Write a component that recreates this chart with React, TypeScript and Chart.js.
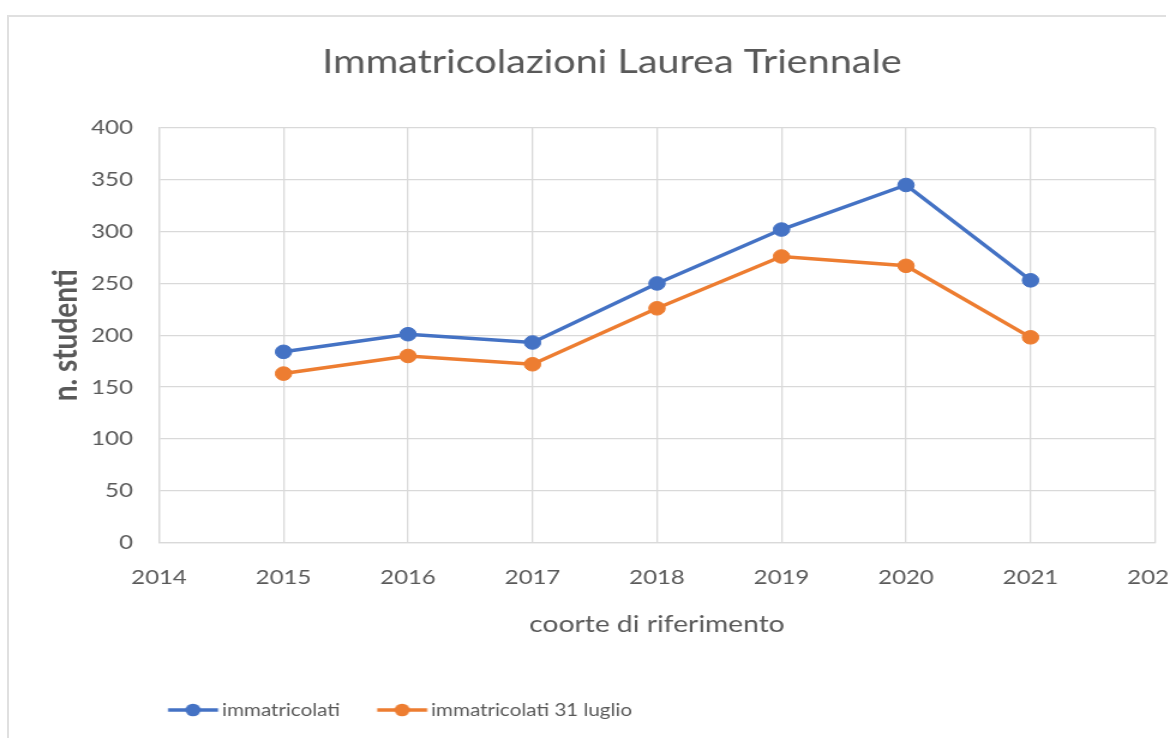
import React, { useEffect, useRef } from "react";
import { Chart, registerables } from "chart.js";

Chart.register(...registerables);

// ---- data ----
const years = [2015, 2016, 2017, 2018, 2019, 2020, 2021];
const immatricolati = [184, 201, 193, 250, 302, 345, 253];
const immatricolati31Luglio = [163, 180, 172, 226, 276, 267, 198];
const seriesLabels = ["immatricolati", "immatricolati 31 luglio"];
const seriesColors = ["#4472C4", "#ED7D31"];
const chartTitle = "Immatricolazioni Laurea Triennale";
const xAxisTitle = "coorte di riferimento";
const yAxisTitle = "n. studenti";
const xMin = 2014;
const xMax = 2022;
const yMin = 0;
const yMax = 400;
const yStep = 50;

// ---- layout constants (canvas px; canvas is stretched horizontally) ----
const STRETCH = 1.2;
const CANVAS_W = 1013;
const CANVAS_H = 738;
const FONT = "Lato, 'Open Sans', sans-serif";
const TEXT_COLOR = "#595959";
const GRID_COLOR = "#d9d9d9";
const LEGEND_FS = 17.2;
const LEGEND_BOX_W = 36.4;
const LEGEND_PAD = 31;
const LEGEND_LEFT = 109;
const TITLE_CENTER = 510;

function makeMarker(color: string): HTMLCanvasElement {
  const c = document.createElement("canvas");
  c.width = 50;
  c.height = 18;
  const ctx = c.getContext("2d")!;
  const u0 = c.width / 2 - LEGEND_BOX_W / 2;
  ctx.strokeStyle = color;
  ctx.lineWidth = 3.5;
  ctx.beginPath();
  ctx.moveTo(u0, c.height / 2);
  ctx.lineTo(u0 + 41.7, c.height / 2);
  ctx.stroke();
  ctx.fillStyle = color;
  ctx.beginPath();
  ctx.arc(u0 + 20.8, c.height / 2, 6.3, 0, Math.PI * 2);
  ctx.fill();
  return c;
}

export default function App() {
  const canvasRef = useRef<HTMLCanvasElement | null>(null);

  useEffect(() => {
    if (!canvasRef.current) return;
    const markers = seriesColors.map((c) => makeMarker(c));
    const seriesValues = [immatricolati, immatricolati31Luglio];

    const tweak = {
      id: "tweak",
      afterLayout(chart: any) {
        const lg = chart.legend;
        if (lg) {
          const w = lg.right - lg.left;
          lg.left = LEGEND_LEFT;
          lg.right = LEGEND_LEFT + w;
        }
        const tb = chart.titleBlock;
        if (tb) {
          const w = tb.right - tb.left;
          tb.left = TITLE_CENTER - w / 2;
          tb.right = tb.left + w;
        }
      },
    };

    const chart = new Chart(canvasRef.current, {
      type: "line",
      data: {
        datasets: seriesValues.map((vals, i) => ({
          label: seriesLabels[i],
          data: years.map((y, j) => ({ x: y, y: vals[j] })),
          borderColor: seriesColors[i],
          backgroundColor: seriesColors[i],
          pointBackgroundColor: seriesColors[i],
          pointBorderColor: seriesColors[i],
          borderWidth: 3.5,
          pointRadius: 6.8,
          pointBorderWidth: 1,
          tension: 0,
          fill: false,
        })),
      },
      plugins: [tweak],
      options: {
        animation: false,
        responsive: false,
        layout: { padding: { top: 0, left: 0, right: 50.5, bottom: 9.4 } },
        scales: {
          x: {
            type: "linear",
            min: xMin,
            max: xMax,
            grid: { color: GRID_COLOR, lineWidth: 1.3, drawTicks: false },
            border: { color: GRID_COLOR, width: 1.3 },
            ticks: {
              stepSize: 1,
              padding: 23,
              color: TEXT_COLOR,
              font: { family: FONT, size: 20 },
              callback: (v: any) => String(v),
              maxRotation: 0,
              autoSkip: false,
            },
            title: {
              display: true,
              text: xAxisTitle,
              color: TEXT_COLOR,
              font: { family: FONT, size: 23.5, lineHeight: 1 },
              padding: { top: 0, bottom: 34.4 },
            },
          },
          y: {
            type: "linear",
            min: yMin,
            max: yMax,
            afterFit: (scale: any) => {
              scale.width = 132.5;
            },
            grid: { color: GRID_COLOR, lineWidth: 1.3, drawTicks: false },
            border: { color: GRID_COLOR, width: 1.3 },
            ticks: {
              stepSize: yStep,
              padding: 21.7,
              color: TEXT_COLOR,
              font: { family: FONT, size: 20 },
            },
            title: {
              display: true,
              text: yAxisTitle,
              color: TEXT_COLOR,
              font: { family: FONT, size: 28, weight: "bold" },
              padding: { top: 38.2, bottom: 0 },
            },
          },
        },
        plugins: {
          title: {
            display: true,
            text: chartTitle,
            color: TEXT_COLOR,
            font: { family: FONT, size: 33, weight: "normal" },
            padding: { top: 42.2, bottom: 46.2 },
          },
          legend: {
            display: true,
            position: "bottom",
            align: "start",
            labels: {
              usePointStyle: true,
              pointStyleWidth: LEGEND_BOX_W,
              padding: LEGEND_PAD,
              color: TEXT_COLOR,
              font: { family: FONT, size: LEGEND_FS },
              generateLabels: (ch: any) =>
                ch.data.datasets.map((ds: any, i: number) => ({
                  text: ds.label,
                  fillStyle: seriesColors[i],
                  strokeStyle: seriesColors[i],
                  lineWidth: 0,
                  pointStyle: markers[i],
                  hidden: false,
                  datasetIndex: i,
                  fontColor: TEXT_COLOR,
                })),
            },
          },
          tooltip: { enabled: false },
        },
      } as any,
    });
    return () => chart.destroy();
  }, []);

  return (
    <div
      style={{
        position: "fixed",
        left: 0,
        top: 0,
        width: 1169,
        height: 738,
        overflow: "hidden",
        background: "#ffffff",
      }}
    >
      <div
        style={{
          position: "absolute",
          left: 7,
          top: 15,
          width: 1159,
          height: 740,
          borderTop: "2px solid #e0e0e0",
          borderLeft: "2px solid #e0e0e0",
          boxSizing: "border-box",
        }}
      />
      <canvas
        ref={canvasRef}
        width={CANVAS_W}
        height={CANVAS_H}
        style={{
          position: "absolute",
          left: 0,
          top: 0,
          width: CANVAS_W,
          height: CANVAS_H,
          transform: `scaleX(${STRETCH})`,
          transformOrigin: "0 0",
        }}
      />
    </div>
  );
}
